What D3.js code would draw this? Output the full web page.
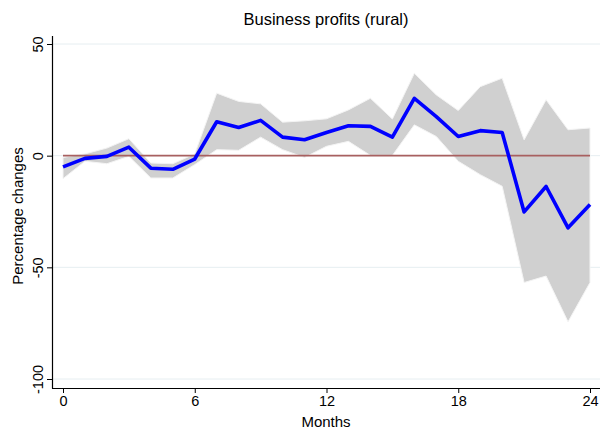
<!DOCTYPE html>
<html>
<head>
<meta charset="utf-8">
<script src="https://cdn.jsdelivr.net/npm/d3@7"></script>
<style>
  html, body { margin: 0; padding: 0; background: #fff; }
  svg { display: block; font-family: "Liberation Sans", Arial, Helvetica, sans-serif; }
</style>
</head>
<body>
<svg id="chart" width="605" height="429"></svg>
<script>
// Months after the event
const months = d3.range(0, 25);
// Point estimates (percentage changes)
const estimate = [-5.0, -1.2, -0.3, 3.8, -5.6, -6.1, -1.5, 15.2, 12.6, 15.8, 8.3, 7.1, 10.4,
                  13.4, 13.1, 8.3, 25.7, 17.5, 8.6, 11.2, 10.4, -25.2, -13.8, -32.3, -21.9];
// Confidence band, upper and lower bounds
const upper = [-0.8, 0.8, 3.4, 7.6, -3.3, -3.6, 0.8, 28.0, 24.3, 23.2, 15.0, 15.6, 16.5,
               20.5, 25.7, 16.4, 36.9, 27.2, 20.2, 30.9, 34.7, 7.1, 25.0, 11.6, 12.4];
const lower = [-10.3, -2.5, -3.6, -0.3, -10.0, -10.0, -4.0, 2.7, 2.4, 8.3, 2.7, -0.8, 4.2,
               6.4, 0.1, 0.1, 13.8, 8.6, -2.5, -8.5, -13.7, -56.8, -53.9, -74.4, -56.8];
// Axis ticks
const xTicks = [0, 6, 12, 18, 24];
const yTicks = [50, 0, -50, -100];

const svg = d3.select("#chart");
const plot = { left: 52, right: 600, top: 36, bottom: 388 };

const x = d3.scaleLinear().domain([0, 24]).range([63, 590]);
const y = d3.scaleLinear().domain([-100, 50]).range([379, 44]);

const rows = months.map((m, i) => ({ m, est: estimate[i], hi: upper[i], lo: lower[i] }));
// Plain hyphen for negative tick labels
const plainNumber = d => String(d);

// Grid lines
svg.append("g").selectAll("line").data(yTicks).join("line")
  .attr("x1", plot.left).attr("x2", plot.right)
  .attr("y1", d => y(d)).attr("y2", d => y(d))
  .attr("stroke", "#e6eef1").attr("stroke-width", 1);

// Confidence band
svg.append("path").datum(rows)
  .attr("d", d3.area().x(d => x(d.m)).y0(d => y(d.lo)).y1(d => y(d.hi)))
  .attr("fill", "#d0d0d0").attr("stroke", "#f4f4f4").attr("stroke-width", 1);

// Zero reference line
svg.append("line")
  .attr("x1", x(0)).attr("x2", x(24)).attr("y1", y(0)).attr("y2", y(0))
  .attr("stroke", "#a86060").attr("stroke-width", 1.6);

// Estimate line
svg.append("path").datum(rows)
  .attr("d", d3.line().x(d => x(d.m)).y(d => y(d.est)))
  .attr("fill", "none").attr("stroke", "#0000ff").attr("stroke-width", 3.6)
  .attr("stroke-linejoin", "round");

// Axes
const xAxis = svg.append("g").attr("transform", `translate(0,${plot.bottom})`)
  .call(d3.axisBottom(x).tickValues(xTicks).tickSize(5).tickPadding(3).tickFormat(plainNumber));
xAxis.select(".domain").remove();
xAxis.selectAll("text").attr("font-size", 14.5).attr("fill", "#000").attr("font-family", null);
xAxis.selectAll("line").attr("stroke", "#000");

const yAxis = svg.append("g").attr("transform", `translate(${plot.left},0)`)
  .call(d3.axisLeft(y).tickValues(yTicks).tickSize(5).tickFormat(plainNumber));
yAxis.select(".domain").remove();
yAxis.selectAll("line").attr("stroke", "#000");
// Tick labels stand upright along the axis
yAxis.selectAll("text")
  .attr("font-size", 14.5).attr("fill", "#000").attr("font-family", null)
  .attr("x", null).attr("y", null).attr("dy", null)
  .attr("text-anchor", "middle")
  .attr("transform", "translate(-9,0) rotate(-90)");

// Axis lines
svg.append("line").attr("x1", plot.left + 0.5).attr("x2", plot.left + 0.5)
  .attr("y1", plot.top).attr("y2", plot.bottom + 0.5).attr("stroke", "#000").attr("stroke-width", 1.2);
svg.append("line").attr("x1", plot.left).attr("x2", plot.right)
  .attr("y1", plot.bottom + 0.5).attr("y2", plot.bottom + 0.5).attr("stroke", "#000").attr("stroke-width", 1.2);

// Titles
svg.append("text").attr("x", 326).attr("y", 25).attr("text-anchor", "middle")
  .attr("font-size", 16.5).text("Business profits (rural)");
svg.append("text").attr("x", 326).attr("y", 427).attr("text-anchor", "middle")
  .attr("font-size", 15).text("Months");
svg.append("text").attr("transform", "translate(23,216) rotate(-90)").attr("text-anchor", "middle")
  .attr("font-size", 15).text("Percentage changes");
</script>
</body>
</html>
